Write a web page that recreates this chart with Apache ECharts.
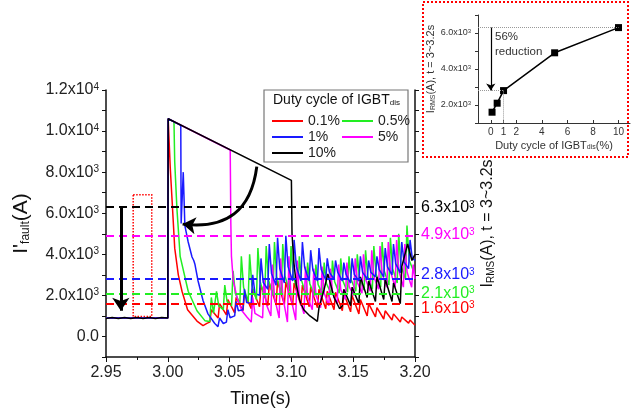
<!DOCTYPE html>
<html><head><meta charset="utf-8">
<script src="https://cdn.jsdelivr.net/npm/echarts@6/dist/echarts.min.js"></script>
<style>html,body{margin:0;padding:0;background:#fff}#c{width:631px;height:413px}</style>
</head><body><div id="c"></div>
<script>
// ---------- DATA ----------
const seriesNames = ['0.1%', '0.5%', '1%', '5%', '10%'];
const rmsValues = [1600, 2100, 2800, 4900, 6300];
const xTicks = [2.95, 3.00, 3.05, 3.10, 3.15, 3.20];
const yTickLabels = [0, 2000, 4000, 6000, 8000, 10000, 12000];

const red = [[2.95,900],[3.0,900],[3.0003,10600],[3.001,10570],[3.002,8200],[3.0033,6800],[3.0056,4300],[3.0085,3000],[3.0115,2200],[3.016,1300],[3.0236,750],[3.0285,530],[3.032,650],
 [3.0340,700],[3.0352,1300],[3.0407,900],[3.0419,1600],[3.0474,1050],[3.0486,1800],[3.0541,1150],[3.0553,1900],[3.0608,1250],[3.0620,2100],
 [3.0675,1350],[3.0687,2300],[3.0742,1450],[3.0754,2500],[3.0809,1500],[3.0821,2600],[3.0876,1550],[3.0888,2700],[3.0943,1550],[3.0955,2650],
 [3.1010,1500],[3.1022,2600],[3.1077,1500],[3.1089,2500],[3.1144,1450],[3.1156,2400],[3.1211,1400],[3.1223,2300],[3.1278,1350],[3.1290,2200],
 [3.1345,1300],[3.1357,2150],[3.1412,1250],[3.1424,2100],[3.1479,1200],[3.1491,2000],[3.1546,1100],[3.1558,1800],[3.1613,1000],[3.1625,1600],
 [3.1680,950],[3.1692,1400],[3.1747,850],[3.1759,1250],[3.1814,800],[3.1826,1100],[3.1881,700],[3.1893,950],[3.1948,650],[3.1960,800],[3.2,550]];

const green = [[2.95,900],[3.0,900],[3.0003,10600],[3.005,10450],[3.0056,8500],[3.0074,6200],[3.010,3900],[3.0165,2200],[3.0236,1250],[3.030,770],[3.034,730],
 [3.0352,1900],[3.0370,1140],[3.0382,1100],[3.0394,2200],[3.0412,1490],[3.0449,1300],[3.0461,2500],[3.0479,1720],
 [3.0516,1500],[3.0528,3200],[3.0546,2100],[3.0583,1600],[3.0595,3900],[3.0613,2400],[3.0650,1700],[3.0662,4000],[3.0680,2500],
 [3.0717,1800],[3.0729,4300],[3.0747,2680],[3.0784,1900],[3.0796,4400],[3.0814,2780],[3.0851,2000],[3.0863,4600],[3.0881,2910],
 [3.0918,2100],[3.0930,4500],[3.0948,2940],[3.0985,2200],[3.0997,4400],[3.1015,2970],[3.1052,2100],[3.1064,3900],[3.1082,2730],
 [3.1119,2000],[3.1131,3600],[3.1149,2560],[3.1186,2000],[3.1198,3500],[3.1216,2530],[3.1253,2050],[3.1265,3600],[3.1283,2590],
 [3.1320,2100],[3.1332,3700],[3.1350,2660],[3.1387,2100],[3.1399,3800],[3.1417,2700],[3.1454,2150],[3.1466,3900],[3.1484,2760],
 [3.1521,2200],[3.1533,4000],[3.1551,2830],[3.1588,2250],[3.1600,4200],[3.1618,2930],[3.1655,2300],[3.1667,4400],[3.1685,3040],
 [3.1722,2400],[3.1734,4600],[3.1752,3170],[3.1789,2500],[3.1801,4800],[3.1819,3300],[3.1856,2600],[3.1868,5000],[3.1886,3440],
 [3.1923,2800],[3.1935,5400],[3.1953,3710],[3.2,3000]];

const blue = [[2.95,900],[3.0,900],[3.0003,10600],[3.0105,10280],[3.0108,5500],[3.0125,8000],[3.0138,5400],[3.0165,4600],[3.0196,3870],[3.021,3700],[3.022,3500],[3.0245,2700],[3.0285,1750],[3.0325,1100],[3.038,630],[3.0406,480],
 [3.0419,900],[3.0449,630],[3.0474,700],[3.0486,1300],[3.0504,910],[3.0541,1000],[3.0553,1700],[3.0571,1250],[3.0608,1300],[3.0620,2300],[3.0638,1650],
 [3.0675,1600],[3.0687,3000],[3.0705,2100],[3.0742,2000],[3.0754,3800],[3.0772,2630],[3.0809,2300],[3.0821,4500],[3.0839,3070],
 [3.0876,2500],[3.0888,4800],[3.0906,3300],[3.0943,2600],[3.0955,4900],[3.0973,3400],[3.1010,2700],[3.1022,4700],[3.1040,3400],
 [3.1077,2700],[3.1089,4600],[3.1107,3370],[3.1144,2700],[3.1156,4200],[3.1174,3230],[3.1211,2700],[3.1223,4300],[3.1241,3260],
 [3.1278,2750],[3.1290,3800],[3.1308,3120],[3.1345,2800],[3.1357,3700],[3.1375,3120],[3.1412,2700],[3.1424,3600],[3.1442,3020],
 [3.1479,2600],[3.1491,3800],[3.1509,3020],[3.1546,2700],[3.1558,3900],[3.1576,3120],[3.1613,2800],[3.1625,3700],[3.1643,3120],
 [3.1680,2900],[3.1692,3900],[3.1710,3250],[3.1747,2900],[3.1759,4300],[3.1777,3390],[3.1814,3000],[3.1826,4500],[3.1844,3530],
 [3.1881,3100],[3.1893,4600],[3.1911,3630],[3.1948,3300],[3.1960,4700],[3.1978,3800],[3.2,3700]];

const magenta = [[2.95,900],[3.0,900],[3.0003,10600],[3.0505,9080],[3.051,5500],[3.0515,3900],[3.053,2700],[3.056,1900],[3.060,1250],[3.064,950],[3.0675,700],
 [3.0687,1900],[3.0705,1120],[3.0767,900],[3.0779,2800],[3.0797,1570],[3.0834,1000],[3.0846,3500],[3.0864,1880],
 [3.0901,900],[3.0913,3800],[3.0931,1920],[3.0968,700],[3.0980,3900],[3.0998,1820],[3.1035,800],[3.1047,3700],[3.1065,1820],
 [3.1102,1100],[3.1114,3400],[3.1132,1900],[3.1169,1300],[3.1181,3300],[3.1199,2000],[3.1236,1400],[3.1248,3400],[3.1266,2100],
 [3.1303,1500],[3.1315,3300],[3.1333,2130],[3.1370,1600],[3.1382,3500],[3.1400,2270],[3.1437,1800],[3.1449,3600],[3.1467,2430],
 [3.1504,2000],[3.1516,3800],[3.1534,2630],[3.1571,2100],[3.1583,4000],[3.1601,2770],[3.1638,2200],[3.1650,4200],[3.1668,2900],
 [3.1705,2300],[3.1717,4400],[3.1735,3040],[3.1772,2400],[3.1784,4600],[3.1802,3170],[3.1839,2400],[3.1851,4700],[3.1869,3200],
 [3.1906,2400],[3.1918,4500],[3.1936,3140],[3.1973,2400],[3.1985,3500],[3.2,2800]];

const black = [[2.95,880],[2.955,920],[2.96,870],[2.965,920],[2.97,880],[2.975,920],[2.98,870],[2.985,920],[2.99,880],[2.995,920],[3.0,900],
 [3.0003,10600],[3.1,7600],[3.1005,5000],[3.102,3600],[3.104,2500],[3.107,1700],[3.110,1300],[3.115,1000],[3.121,730],
 [3.1223,1400],[3.1265,2300],[3.1295,3050],[3.1345,1900],[3.139,1350],[3.1412,1500],[3.1424,2300],[3.1479,1500],[3.1491,2400],
 [3.1546,1600],[3.1558,2900],[3.1613,1900],[3.1625,2700],[3.1680,1700],[3.1692,2900],[3.1747,1800],[3.1759,2800],[3.1814,1700],[3.1826,2600],
 [3.1881,1600],[3.1893,3400],[3.1940,4500],[3.1975,3700],[3.2,4000]];

// inset: duty cycle (%) vs RMS current
const dutyCycle = [0.1, 0.5, 1, 5, 10];
const insetRms = [1600, 2100, 2800, 4900, 6300];
const insetXLabels = [0, 1, 2, 4, 6, 8, 10];
const insetYLabels = [2000, 4000, 6000];

// annotations (data space)
const boxT = [2.972, 2.987];
const boxV = [970, 6900];
const dropArrow = [[2.962, 6300], [2.962, 1250]];
const curveArrow = [[3.072, 8270], [3.012, 5470]];
const insetArrow = [[0, 6300], [0, 2800]];

// ---------- STYLE ----------
const FONT = 'Liberation Sans, Arial, sans-serif';
const colors = ['#ff0000', '#22ee22', '#1a1aff', '#ff00ff', '#000000'];
const seriesData = [red, green, blue, magenta, black];
const drawOrder = [0, 1, 3, 2, 4];
const labelShift = [5, 0, -4, -1, 1];   // small vertical nudges of the right-hand labels (px)

function sci(v) {
  if (v === 0) return '{m|0.0}';
  const e = v >= 10000 ? 4 : 3;
  return '{m|' + (v / Math.pow(10, e)).toFixed(1) + 'x10}{s|' + e + '}';
}

const series = [];
drawOrder.forEach(i => {
  series.push({
    type: 'line', name: seriesNames[i], data: seriesData[i],
    xAxisIndex: 0, yAxisIndex: 0, symbol: 'none', showSymbol: false,
    lineStyle: { color: colors[i], width: 1.5 }, itemStyle: { color: colors[i] },
    markLine: {
      silent: true, symbol: 'none', label: { show: false },
      lineStyle: { color: colors[i], type: [8, 5], width: 2 },
      data: [{ yAxis: rmsValues[i] }]
    },
    markArea: i === 0 ? {
      silent: true,
      itemStyle: { color: 'rgba(0,0,0,0)', borderColor: '#ff0000', borderWidth: 1.5, borderType: 'dotted' },
      data: [[{ coord: [boxT[0], boxV[1]] }, { coord: [boxT[1], boxV[0]] }]]
    } : undefined
  });
});

series.push({
  type: 'lines', coordinateSystem: 'cartesian2d', xAxisIndex: 0, yAxisIndex: 0,
  symbol: ['none', 'arrow'], symbolSize: 13, silent: true, z: 10,
  lineStyle: { color: '#000', width: 3, opacity: 1 },
  data: [
    { coords: dropArrow },
    { coords: curveArrow, lineStyle: { curveness: 0.5 } }
  ]
});

series.push({
  type: 'line', name: 'inset', xAxisIndex: 1, yAxisIndex: 2,
  data: dutyCycle.map((d, i) => [d, insetRms[i]]),
  symbol: 'rect', symbolSize: 7, lineStyle: { color: '#000', width: 1.5 }, itemStyle: { color: '#000' },
  markLine: {
    silent: true, symbol: 'none', label: { show: false },
    lineStyle: { color: '#999', type: 'dotted', width: 1 },
    data: [
      [{ coord: [-1, insetRms[4]] }, { coord: [dutyCycle[4], insetRms[4]] }],
      [{ coord: [-1, insetRms[2]] }, { coord: [dutyCycle[2], insetRms[2]] }],
      [{ coord: [dutyCycle[2], insetRms[2]] }, { coord: [dutyCycle[2], 1000] }]
    ]
  }
});
series.push({
  type: 'lines', coordinateSystem: 'cartesian2d', xAxisIndex: 1, yAxisIndex: 2,
  symbol: ['none', 'arrow'], symbolSize: 7, silent: true,
  lineStyle: { color: '#000', width: 1.2, opacity: 1 },
  data: [{ coords: insetArrow }]
});

const baseGraphic = [
  { type: 'rect', z: 1, shape: { x: 264, y: 90, width: 144, height: 72 }, style: { fill: '#fff', stroke: '#777', lineWidth: 1.2 } },
  { type: 'text', z: 2, x: 273, y: 100, style: { text: '{t|Duty cycle of IGBT}{s|dis}', verticalAlign: 'middle',
    rich: { t: { fontSize: 14, fill: '#111', fontFamily: FONT }, s: { fontSize: 8, fill: '#111', verticalAlign: 'bottom', fontFamily: FONT } } } },
  { type: 'rect', z: 1, shape: { x: 423, y: 2, width: 205, height: 155 }, style: { fill: 'rgba(0,0,0,0)', stroke: '#ff0000', lineWidth: 2, lineDash: [2, 2] } },
  { type: 'text', z: 2, x: 495, y: 29, style: { text: '56%\nreduction', fontSize: 11.5, lineHeight: 15, fill: '#333', fontFamily: FONT } }
];

const option = {
  animation: false,
  backgroundColor: '#fff',
  textStyle: { fontFamily: FONT },
  grid: [
    { left: 106, right: 216, top: 90, bottom: 54 },
    { left: 478, right: 1, top: 15, bottom: 290 }
  ],
  legend: {
    data: seriesNames, left: 272, top: 114, width: 140, orient: 'horizontal',
    icon: 'rect', itemWidth: 31, itemHeight: 2, itemGap: 2, padding: 0,
    textStyle: { fontSize: 14, color: '#222', fontFamily: FONT, width: 32, lineHeight: 14 },
    selectedMode: false
  },
  xAxis: [
    {
      gridIndex: 0, type: 'value', min: xTicks[0], max: xTicks[xTicks.length - 1], interval: 0.05,
      axisLine: { onZero: false, lineStyle: { color: '#111', width: 1.5 } },
      axisTick: { length: 5, lineStyle: { color: '#111' } },
      minorTick: { show: true, splitNumber: 2, length: 3, lineStyle: { color: '#111' } },
      axisLabel: { formatter: v => v.toFixed(2), fontSize: 16, color: '#222', margin: 8, fontFamily: FONT },
      splitLine: { show: false },
      name: 'Time(s)', nameLocation: 'middle', nameGap: 33,
      nameTextStyle: { fontSize: 18, color: '#111', fontFamily: FONT }
    },
    {
      gridIndex: 1, type: 'value', min: -1, max: 10.9,
      axisLine: { onZero: false, lineStyle: { color: '#333', width: 1 } },
      axisTick: { customValues: insetXLabels, inside: true, length: 3 },
      axisLabel: { customValues: insetXLabels, fontSize: 10, color: '#333', margin: 4 },
      splitLine: { show: false },
      name: '{a|Duty cycle of IGBT}{s|dis}{a|(%)}', nameLocation: 'middle', nameGap: 17,
      nameTextStyle: { rich: { a: { fontSize: 11, color: '#333', fontFamily: FONT }, s: { fontSize: 7, color: '#333', verticalAlign: 'bottom', fontFamily: FONT } } }
    }
  ],
  yAxis: [
    {
      gridIndex: 0, type: 'value', min: -1000, max: 12000, interval: 1000,
      axisLine: { show: true, onZero: false, lineStyle: { color: '#111', width: 1.5 } },
      axisTick: { show: true, length: 4, lineStyle: { color: '#111' } },
      axisLabel: {
        customValues: yTickLabels, formatter: sci, margin: 7,
        rich: { m: { fontSize: 16, color: '#222', fontFamily: FONT }, s: { fontSize: 10, color: '#222', verticalAlign: 'top', fontFamily: FONT } }
      },
      splitLine: { show: false },
      name: "{a|I'}{s|fault}{a|(A)}", nameLocation: 'middle', nameGap: 74, nameRotate: 90,
      nameTextStyle: { rich: { a: { fontSize: 21, color: '#111', fontFamily: FONT }, s: { fontSize: 12, color: '#111', verticalAlign: 'bottom', fontFamily: FONT } } }
    },
    {
      gridIndex: 0, type: 'value', position: 'right', min: -1000, max: 12000, interval: 1000,
      axisLine: { show: true, onZero: false, lineStyle: { color: '#111', width: 1.5 } },
      axisTick: { show: true, length: 4, lineStyle: { color: '#111' } },
      axisLabel: { show: false },
      splitLine: { show: false },
      name: '{a|I}{s|RMS}{a|(A), t = 3~3.2s}', nameLocation: 'middle', nameGap: 65, nameRotate: 90,
      nameTextStyle: { rich: { a: { fontSize: 16, color: '#111', fontFamily: FONT }, s: { fontSize: 10, color: '#111', verticalAlign: 'bottom', fontFamily: FONT } } }
    },
    {
      gridIndex: 1, type: 'value', min: 1000, max: 7000, interval: 1000,
      axisLine: { show: true, onZero: false, lineStyle: { color: '#333', width: 1 } },
      axisTick: { show: true, length: 3 },
      axisLabel: {
        customValues: insetYLabels, margin: 7, formatter: v => '{m|' + (v / 1000).toFixed(1) + 'x10}{s|3}',
        rich: { m: { fontSize: 9, color: '#333' }, s: { fontSize: 6, color: '#333', verticalAlign: 'top' } }
      },
      splitLine: { show: false },
      name: '{a|I}{s|RMS}{a|(A), t = 3~3.2s}', nameLocation: 'middle', nameGap: 40, nameRotate: 90,
      nameTextStyle: { rich: { a: { fontSize: 11, color: '#333', fontFamily: FONT }, s: { fontSize: 7, color: '#333', verticalAlign: 'bottom', fontFamily: FONT } } }
    }
  ],
  graphic: baseGraphic,
  series
};

const chart = echarts.init(document.getElementById('c'), null, { renderer: 'canvas' });
chart.setOption(option);

// right-hand RMS labels, positioned through the right axis scale
const xRight = chart.convertToPixel({ xAxisIndex: 0 }, xTicks[xTicks.length - 1]);
const rmsLabels = rmsValues.map((v, i) => ({
  type: 'text', z: 3, x: xRight + 6,
  y: chart.convertToPixel({ yAxisIndex: 1 }, v) + labelShift[i],
  style: {
    text: '{m|' + (v / 1000).toFixed(1) + 'x10}{s|3}', verticalAlign: 'middle',
    rich: { m: { fontSize: 16, fill: colors[i], fontFamily: FONT }, s: { fontSize: 10, fill: colors[i], verticalAlign: 'top', fontFamily: FONT } }
  }
}));
chart.setOption({ graphic: baseGraphic.concat(rmsLabels) });
</script></body></html>
